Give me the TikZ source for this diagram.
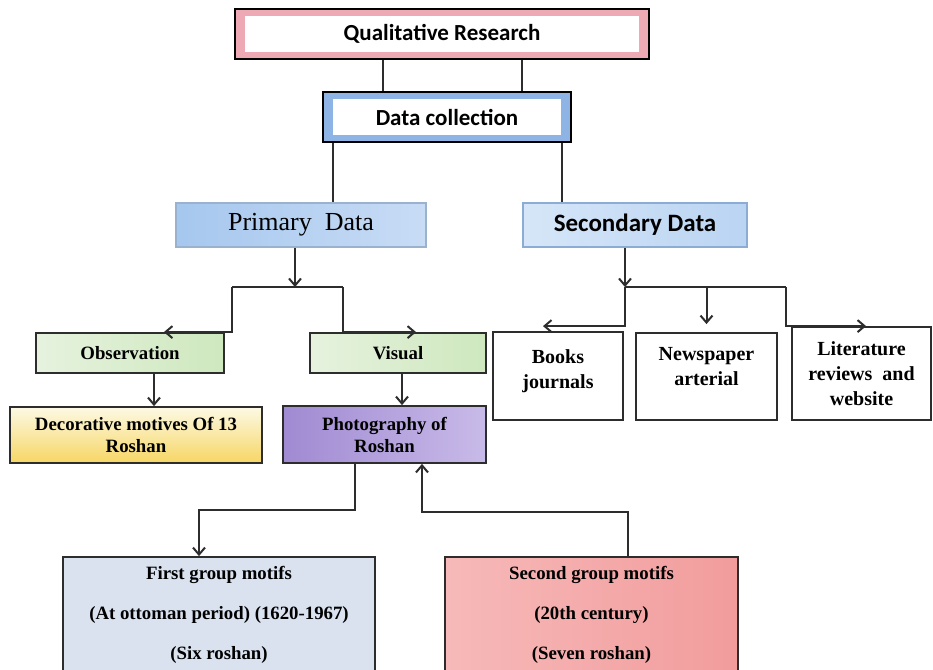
\documentclass[tikz,border=0pt]{standalone}
\usepackage{fontspec}
\setmainfont{Liberation Serif}
\newfontfamily\calib{Carlito}
\usepackage{tikz}
\usetikzlibrary{arrows.meta}

\definecolor{qrband}{RGB}{238,170,180}
\definecolor{dcband}{RGB}{141,180,228}
\definecolor{pdleft}{RGB}{166,199,238}
\definecolor{pdright}{RGB}{200,220,245}
\definecolor{sdleft}{RGB}{214,230,248}
\definecolor{sdright}{RGB}{186,212,242}
\definecolor{sdline}{RGB}{140,172,212}
\definecolor{grleft}{RGB}{230,242,222}
\definecolor{grright}{RGB}{206,232,190}
\definecolor{decTop}{RGB}{253,249,228}
\definecolor{decBot}{RGB}{246,214,100}
\definecolor{phleft}{RGB}{160,138,210}
\definecolor{phright}{RGB}{200,186,232}
\definecolor{firstbg}{RGB}{218,226,240}
\definecolor{sndleft}{RGB}{247,185,185}
\definecolor{sndright}{RGB}{242,156,156}
\definecolor{wire}{RGB}{45,45,45}

\begin{document}
\begin{tikzpicture}[x=0.5pt, y=-0.5pt,
  every node/.style = {shape=rectangle, draw=wire, line width=0.9pt, align=center, inner sep=0pt},
  band/.style = {fill=#1, draw=black, line width=0.6pt,
    path picture={\fill[white] ([shift={(5pt,-3.5pt)}]path picture bounding box.north west)
      rectangle ([shift={(-5pt,3.5pt)}]path picture bounding box.south east);},
    font=\calib\bfseries\fontsize{11.5}{14}\selectfont},
  serifbox/.style = {font=\bfseries\fontsize{9.4}{11}\selectfont},
  srcbox/.style = {fill=white, font=\bfseries\fontsize{10}{12.5}\selectfont},
  groupbox/.style = {font=\bfseries\fontsize{9.4}{20}\selectfont},
  line/.style = {draw=wire, line width=1pt},
  arr/.style = {line, -{Straight Barb[length=3.5pt,width=6pt]}}]
  \useasboundingbox (0,0) rectangle (933,670);

  % top of the tree
  \node[band=qrband, minimum width=207pt, minimum height=25pt] (qr) at (442,34) {Qualitative Research};
  \node[band=dcband, minimum width=124pt, minimum height=25pt] (dc) at (447,117) {Data collection};

  \node[left color=pdleft, right color=pdright, draw=pdleft!70!gray, minimum width=125pt, minimum height=22pt,
    font=\fontsize{13}{15}\selectfont] (pd) at (301,225) {Primary\ \ Data};
  \node[left color=sdleft, right color=sdright, draw=sdline, minimum width=112pt, minimum height=22pt,
    font=\calib\bfseries\fontsize{12.5}{15}\selectfont] (sd) at (635,225) {Secondary Data};

  % primary side
  \node[serifbox, left color=grleft, right color=grright, minimum width=94pt, minimum height=20pt] (obs) at (130,353) {Observation};
  \node[serifbox, left color=grleft, right color=grright, minimum width=88pt, minimum height=20pt] (vis) at (398,353) {Visual};
  \node[serifbox, top color=decTop, bottom color=decBot, minimum width=126pt, minimum height=28pt] (dec) at (136,435) {Decorative motives Of 13\\Roshan};
  \node[serifbox, left color=phleft, right color=phright, minimum width=101.5pt, minimum height=28.5pt] (pho) at (384.5,434.5) {Photography of\\Roshan};

  % secondary side
  \node[srcbox, minimum width=65pt, minimum height=44pt] (bks) at (558,376) {Books\\journals\\[-6pt]\mbox{}};
  \node[srcbox, minimum width=70.5pt, minimum height=43.5pt] (nws) at (706.5,376.5) {Newspaper\\arterial\\[-2pt]\mbox{}};
  \node[srcbox, minimum width=69.5pt, minimum height=46.5pt] (lit) at (861.5,373.5) {Literature\\reviews\ \ and\\website};

  % the two groups
  \node[groupbox, fill=firstbg, minimum width=156pt, minimum height=58pt] (fst) at (219,615)
    {First group motifs\\(At ottoman period) (1620-1967)\\(Six roshan)};
  \node[groupbox, left color=sndleft, right color=sndright, minimum width=146.5pt, minimum height=58pt] (snd) at (591.5,615)
    {Second group motifs\\(20th century)\\(Seven roshan)};

  \coordinate (pj) at (295,287);
  \coordinate (pl) at (232,287);
  \coordinate (pr) at (343,287);
  \coordinate (sj) at (625,287);
  \coordinate (sr) at (786,287);

  \draw[line] ([xshift=-29.5pt]qr.south) -- ([xshift=-32pt]dc.north);
  \draw[line] ([xshift=40pt]qr.south) -- ([xshift=37.5pt]dc.north);
  \draw[line] ([xshift=-57pt]dc.south) -- ([xshift=16pt]pd.north);
  \draw[line] ([xshift=57.5pt]dc.south) -- ([xshift=-36.5pt]sd.north);

  \draw[arr] ([xshift=-3pt]pd.south) -- (pj);
  \draw[line] (pl) -- (pr);
  \draw[arr] (pl) |- ([xshift=-30.5pt]obs.north east);
  \draw[arr] (pr) |- ([xshift=53.5pt]vis.north west);
  \draw[arr] ([xshift=12pt]obs.south) -- ([xshift=9pt]dec.north);
  \draw[arr] ([xshift=2pt]vis.south) -- ([xshift=8.75pt]pho.north);

  \draw[arr] ([xshift=-5pt]sd.south) -- (sj);
  \draw[line] (sj) -- (sr);
  \draw[arr] (sj) |- ([xshift=-7.5pt,yshift=2.5pt]bks.north);
  \draw[arr] (nws.north |- sj) -- ([yshift=4pt]nws.north);
  \draw[arr] (sr) |- ([xshift=37.5pt]lit.north west);

  \draw[arr] ([xshift=-14.75pt]pho.south) |- ([xshift=-10pt,yshift=23pt]fst.north) -- ([xshift=-10pt]fst.north);
  \draw[arr] ([xshift=18.25pt]snd.north) |- ([xshift=18.75pt,yshift=-24pt]pho.south) -- ([xshift=18.75pt]pho.south);
\end{tikzpicture}
\end{document}
